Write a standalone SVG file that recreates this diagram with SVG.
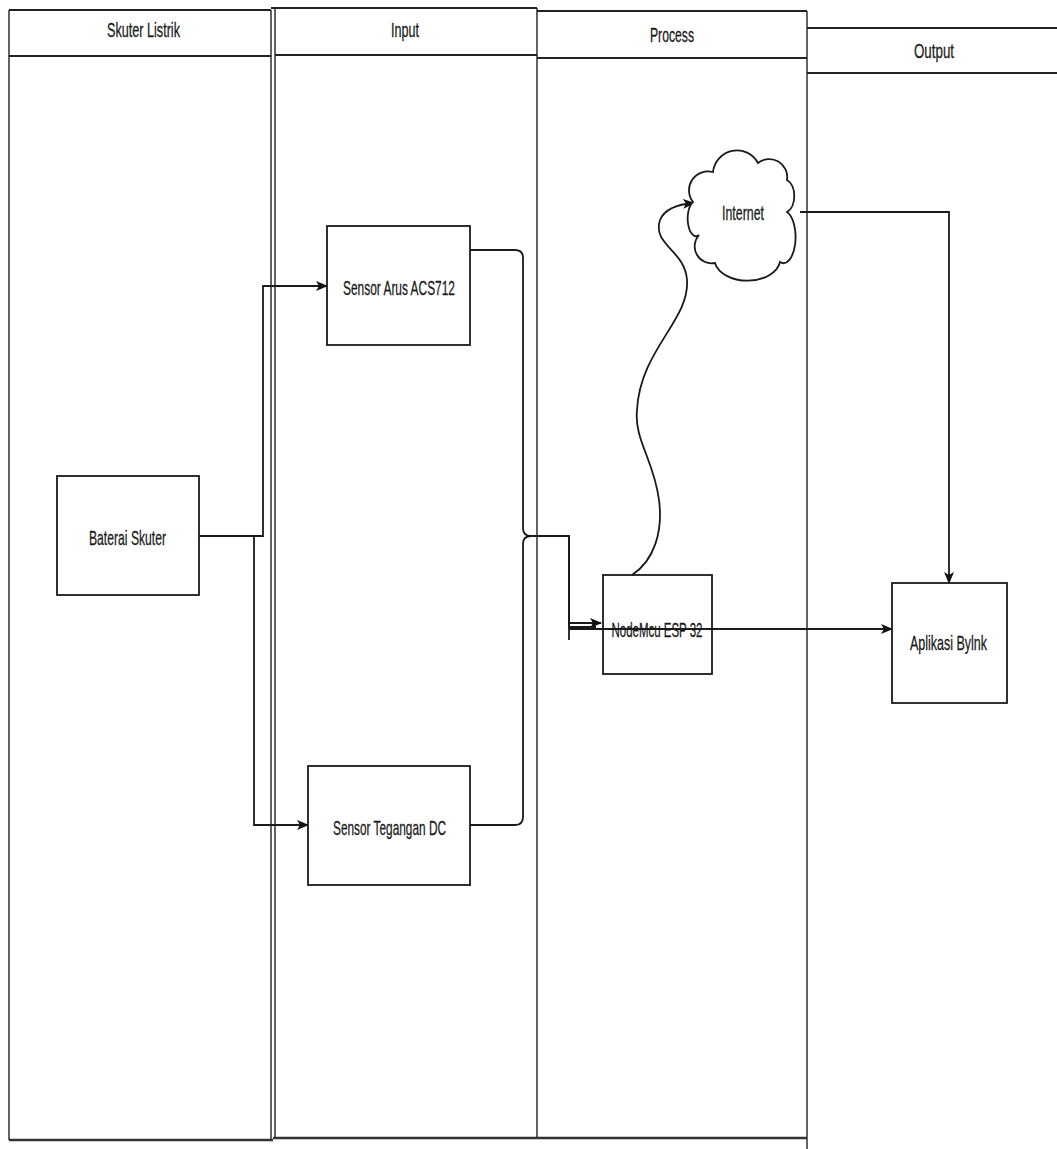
<svg xmlns="http://www.w3.org/2000/svg" width="1057" height="1149" viewBox="0 0 1057 1149">
<defs>
<marker id="arr" viewBox="0 0 12 10" refX="11" refY="5" markerWidth="12" markerHeight="10" markerUnits="userSpaceOnUse" orient="auto">
<path d="M0,0 L12,5 L0,10 L3,5 z" fill="#111"/>
</marker>
<style>
.lane{fill:none;stroke:#111;stroke-width:1.3}
.hdr{fill:none;stroke:#222;stroke-width:2}
.bot{fill:none;stroke:#333;stroke-width:2.5}
.box{fill:#fff;stroke:#1a1a1a;stroke-width:1.8}
.edge{fill:none;stroke:#1a1a1a;stroke-width:1.8}
.t{font-family:"Liberation Sans Narrow","Liberation Sans",Arial,sans-serif;font-size:21px;fill:#1a1a1a;stroke:#1a1a1a;stroke-width:0.3;text-anchor:middle}
</style>
</defs>
<rect width="1057" height="1149" fill="#fff"/>
<g id="lanes">
<g id="lane-skuter">
<path class="lane" d="M9,10 V1140 M271,10 V1140"/>
<path class="hdr" d="M9,10 H271 M9,56 H271"/>
<path class="bot" d="M9,1140 H273"/>
<text class="t" x="143.5" y="37" textLength="73" lengthAdjust="spacingAndGlyphs">Skuter Listrik</text>
</g>
<g id="lane-input">
<path class="lane" d="M275,8 V1138 M537,8 V1138"/>
<path class="hdr" d="M271,8 H537 M275,55 H537"/>
<path class="bot" d="M273,1138 H537"/>
<text class="t" x="405" y="37" textLength="28" lengthAdjust="spacingAndGlyphs">Input</text>
</g>
<g id="lane-process">
<path class="lane" d="M807,11 V1149"/>
<path class="hdr" d="M537,11 H807 M537,58 H807"/>
<path class="bot" d="M537,1138 H807"/>
<text class="t" x="672" y="42" textLength="44" lengthAdjust="spacingAndGlyphs">Process</text>
</g>
<g id="lane-output">
<path class="hdr" d="M807,28 H1057 M807,73 H1057"/>
<text class="t" x="934" y="58" textLength="40" lengthAdjust="spacingAndGlyphs">Output</text>
</g>
</g>
<g id="connectors">
<path class="edge" d="M199,536 H263 V286 H327" marker-end="url(#arr)"/>
<path class="edge" d="M199,536 H254 V825 H308" marker-end="url(#arr)"/>
<path class="edge" d="M470,250 H515 Q523,250 523,258 V528 Q523,536 531,536 H569 V623 H601" marker-end="url(#arr)"/>
<path class="edge" d="M470,825 H515 Q523,825 523,817 V544 Q523,536 531,536 H569 V627 H596"/>
<path class="edge" d="M569,620 V640"/>
<path class="edge" d="M632,575 C655,560 663,530 659,500 C654,460 634,440 637,410 C640,350 690,320 687,280 C685,250 652,245 660,220 C665,208 680,204 694,203" marker-end="url(#arr)"/>
<path class="edge" d="M569,629 H892" marker-end="url(#arr)"/>
<path class="edge" d="M800,212 H949 V583" marker-end="url(#arr)"/>
</g>
<g id="node-baterai">
<rect class="box" x="57" y="476" width="142" height="119"/>
<text class="t" x="127.5" y="545" textLength="77" lengthAdjust="spacingAndGlyphs">Baterai Skuter</text>
</g>
<g id="node-arus">
<rect class="box" x="327" y="226" width="143" height="119"/>
<text class="t" x="399" y="295" textLength="112" lengthAdjust="spacingAndGlyphs">Sensor Arus ACS712</text>
</g>
<g id="node-tegangan">
<rect class="box" x="308" y="766" width="162" height="119"/>
<text class="t" x="389.5" y="835" textLength="113" lengthAdjust="spacingAndGlyphs">Sensor Tegangan DC</text>
</g>
<g id="node-nodemcu">
<rect class="box" x="603" y="575" width="109" height="99" style="fill:none"/>
<text class="t" x="657" y="637" textLength="91" lengthAdjust="spacingAndGlyphs">NodeMcu ESP 32</text>
</g>
<g id="node-internet">
<path class="box" d="M713,172 A24,24 0 0 1 758,163 A18,18 0 0 1 787,180 A11,17 0 0 1 787,212 A12,26 0 0 1 780,262 A33,22 0 0 1 715,263 A17,17 0 0 1 699,235 A8,17 0 0 1 693,202 A19,19 0 0 1 713,172 Z"/>
<text class="t" x="743" y="220" textLength="42" lengthAdjust="spacingAndGlyphs">Internet</text>
</g>
<g id="node-blynk">
<rect class="box" x="892" y="583" width="115" height="120"/>
<text class="t" x="948.5" y="650" textLength="77" lengthAdjust="spacingAndGlyphs">Aplikasi Bylnk</text>
</g>
</svg>
